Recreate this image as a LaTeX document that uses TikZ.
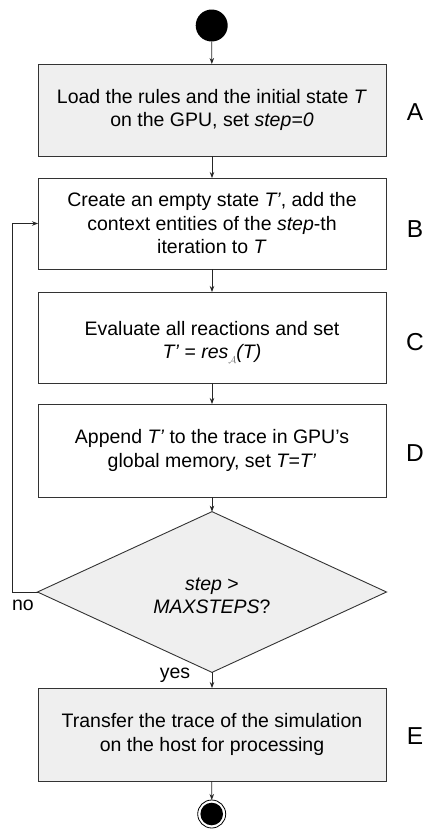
\documentclass[tikz,border=0pt]{standalone}
\usepackage{fontspec}
\setmainfont{Liberation Sans}
\usetikzlibrary{shapes.geometric,arrows.meta}
\definecolor{boxfill}{HTML}{EFEFEF}
\definecolor{edge}{HTML}{333333}
\tikzset{
  every node/.style={font=\fontsize{19.5}{23.5}\selectfont},
  stepbox/.style={draw=edge, line width=0.9pt, minimum width=348pt, inner sep=0pt, outer sep=0pt, align=center},
  shaded/.style={fill=boxfill},
  decision/.style={diamond, draw=edge, line width=0.9pt, fill=boxfill, minimum width=349pt, minimum height=149pt, inner sep=0pt, outer sep=0pt, align=center},
  flow/.style={draw=black!85, line width=0.8pt, -{Stealth[length=6pt,width=4.5pt]}},
  tag/.style={font=\fontsize{24.5}{24.5}\selectfont, anchor=center},
  plain/.style={anchor=center, inner sep=0pt}
}
\newcommand{\ital}[1]{\textit{#1}}
\begin{document}
\begin{tikzpicture}[x=1pt, y=-1pt]
  \useasboundingbox (0,0) rectangle (423,830);
  % start and end markers
  \node[circle, fill=black, minimum size=32pt, inner sep=0pt, outer sep=0pt] (start) at (211.7,25.5) {};
  \node[circle, draw=black, line width=0.8pt, fill=white, minimum size=28pt, inner sep=0pt, outer sep=0pt] (stop) at (211.7,814) {};
  \fill[black] (stop.center) circle (11.3pt);

  % process steps
  \node[stepbox, shaded, minimum height=92pt] (A) at (212,110)
    {Load the rules and the initial state \ital{T}\\on the GPU, set \ital{step=0}};
  \node[stepbox, minimum height=91pt] (B) at (212,223.5)
    {Create an empty state \ital{T’}, add the\\context entities of the \ital{step}-th\\iteration to \ital{T}};
  \node[stepbox, minimum height=91pt] (C) at (212,337.5)
    {\rule{0pt}{24pt}Evaluate all reactions and set\\\ital{T’} = \ital{res}\raisebox{-5pt}{\color{black!55}\fontsize{10}{10}\selectfont$\mathcal{A}$}\ital{(T)}};
  \node[stepbox, minimum height=93pt] (D) at (212,450.5)
    {Append \ital{T’} to the trace in GPU’s\\global memory, set \ital{T=T’}};
  \node[decision] (Q) at (212,592)
    {\rule{0pt}{20pt}\ital{step} >\\\ital{MAXSTEPS}?};
  \node[stepbox, shaded, minimum height=93pt] (E) at (212,734.5)
    {Transfer the trace of the simulation\\on the host for processing};

  % side letters
  \node[tag] (tA) at (415,112) {A};
  \node[tag] (tB) at (415,229) {B};
  \node[tag] (tC) at (415,342) {C};
  \node[tag] (tD) at (415,453) {D};
  \node[tag] (tE) at (415,736) {E};

  % branch labels
  \node[plain] (lno) at (23,605) {no};
  \node[plain] (lyes) at (175,675) {yes};

  % connectors
  \draw[flow] (start) -- (A);
  \draw[flow] (A) -- (B);
  \draw[flow] (B) -- (C);
  \draw[flow] (C) -- (D);
  \draw[flow] (D) -- (Q);
  \draw[flow] (Q) -- (E);
  \draw[flow] (E) -- (stop);
  \coordinate (loopbot) at (12,592);
  \coordinate (looptop) at (12,223.5);
  \draw[flow] (Q.west) -- (loopbot) -- (looptop) -- (B.west);
\end{tikzpicture}
\end{document}
